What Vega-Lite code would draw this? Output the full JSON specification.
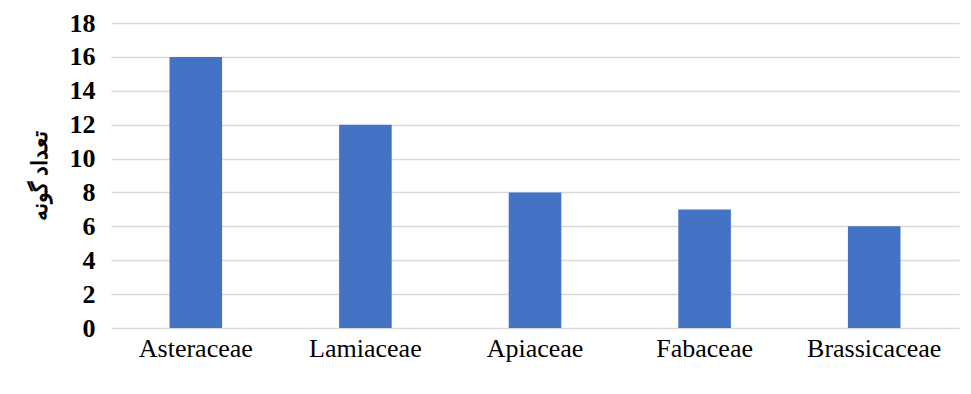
{
  "$schema": "https://vega.github.io/schema/vega-lite/v6.json",
  "autosize": "none",
  "width": 848,
  "height": 305,
  "padding": {"left": 111, "top": 23, "right": 12, "bottom": 66},
  "background": "white",
  "data": {"values": [
    {"family": "Asteraceae", "count": 16},
    {"family": "Lamiaceae", "count": 12},
    {"family": "Apiaceae", "count": 8},
    {"family": "Fabaceae", "count": 7},
    {"family": "Brassicaceae", "count": 6}
  ]},
  "mark": {"type": "bar", "color": "#4472c4"},
  "encoding": {
    "x": {"field": "family", "type": "nominal", "sort": null,
      "scale": {"paddingInner": 0.69, "paddingOuter": 0.345},
      "axis": {"title": null, "labelAngle": 0, "labelFont": "Liberation Serif", "labelFontSize": 26, "labelColor": "#000", "labelPadding": 7, "ticks": false, "domain": false}},
    "y": {"field": "count", "type": "quantitative",
      "scale": {"domain": [0, 18]},
      "axis": {"values": [0,2,4,6,8,10,12,14,16,18], "title": "تعداد گونه", "titleFont": "Noto Sans", "titleFontSize": 22, "titleFontWeight": "bold", "titleColor": "#000", "titlePadding": 18,
        "labelFont": "Liberation Serif", "labelFontSize": 26, "labelFontWeight": "bold", "labelColor": "#000", "labelPadding": 16,
        "ticks": false, "domain": false, "grid": true, "gridColor": "#d9d9d9", "gridWidth": 1.5}}
  },
  "config": {"view": {"stroke": null}}
}
